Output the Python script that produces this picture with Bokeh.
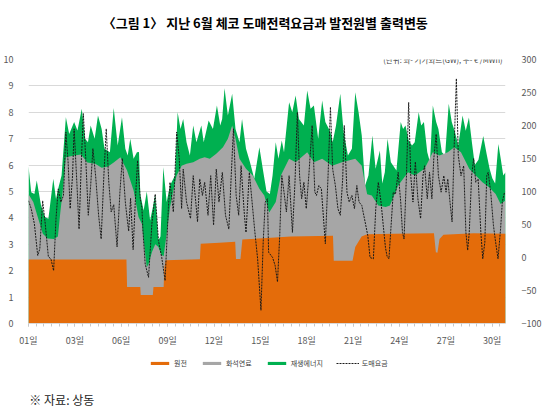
import numpy as np
from bokeh.plotting import figure
from bokeh.layouts import column
from bokeh.models import (Range1d, LinearAxis, FixedTicker, Legend, LegendItem, Label)
from bokeh.embed import file_html
from bokeh.resources import INLINE

FONT = "Noto Sans CJK KR"

# ---- axis ticks ----
tick_hours = [0, 70, 140, 210, 280, 350, 420, 490, 560, 630, 700]
tick_labels = ["01일", "03일", "06일", "09일", "12일", "15일", "18일", "21일", "24일", "27일", "30일"]
gw_ticks = [0, 1, 2, 3, 4, 5, 6, 7, 8, 9, 10]
price_ticks = [-100, -50, 0, 50, 100, 150, 200, 250, 300]

# ---- series (day of month as float, value) ----
# 원전 (nuclear), GW
nuclear = [(0, 2.42), (6.16, 2.42), (6.2, 1.38), (7.03, 1.38), (7.06, 1.08), (7.82, 1.08),
           (7.86, 1.38), (8.5, 1.38), (8.54, 2.07), (8.62, 2.4), (10.78, 2.43), (10.83, 3.02),
           (12.0, 3.06), (13.0, 3.1), (13.05, 2.44), (13.33, 2.44), (13.45, 3.18), (15.0, 3.24),
           (16.5, 3.3), (19.15, 3.32), (19.2, 2.38), (20.38, 2.38), (20.55, 2.9), (20.95, 3.3),
           (21.3, 3.38), (23.0, 3.4), (25.5, 3.42), (25.62, 2.7), (25.72, 2.68), (25.85, 3.2),
           (26.1, 3.36), (28.0, 3.42), (30.0, 3.4)]

# 원전 + 화석연료 (top of fossil band), GW
fossil_top = [(0, 4.9), (0.3, 4.6), (0.6, 4.0), (0.9, 3.4), (1.2, 3.22), (1.6, 3.2), (1.85, 3.3),
              (2.0, 4.2), (2.15, 5.0), (2.35, 6.3), (2.8, 6.35), (3.3, 6.4), (3.7, 6.1), (4.2, 6.05),
              (4.6, 5.9), (5.0, 5.95), (5.36, 6.1), (5.78, 6.3), (6.2, 5.8), (6.61, 5.04), (6.92, 4.03),
              (7.13, 3.78), (7.34, 2.64), (7.44, 2.13), (7.55, 2.25), (7.76, 2.7), (7.97, 3.0),
              (8.17, 2.9), (8.35, 2.6), (8.5, 2.55), (8.69, 3.4), (8.9, 4.4), (9.11, 5.04), (9.31, 5.6),
              (9.63, 5.98), (9.94, 6.05), (10.36, 6.11), (10.77, 6.24), (11.08, 6.3), (11.4, 6.24),
              (11.81, 6.43), (12.23, 6.68), (12.54, 7.0), (12.81, 7.5), (13.02, 7.0), (13.27, 6.24),
              (13.68, 5.86), (14.1, 5.61), (14.52, 5.1), (14.83, 4.85), (15.14, 4.2), (15.55, 4.6),
              (15.87, 5.61), (16.39, 6.24), (16.8, 6.11), (17.53, 6.49), (17.95, 6.11), (18.47, 6.24),
              (19.1, 5.98), (19.71, 6.11), (20.55, 6.24), (20.96, 5.98), (21.1, 5.5), (21.3, 4.9),
              (21.59, 4.85), (22.0, 4.47), (22.46, 4.41), (22.73, 4.47), (23.25, 5.23), (23.87, 5.73),
              (24.29, 5.61), (24.91, 5.86), (25.43, 6.49), (25.85, 6.36), (26.37, 6.49), (26.78, 6.68),
              (27.2, 6.49), (27.72, 5.86), (28.13, 5.61), (28.55, 5.35), (28.97, 5.16), (29.38, 4.91),
              (29.69, 4.53), (30.0, 4.66)]

# 원전 + 화석연료 + 재생에너지 (total output), GW
total = [(0, 5.96), (0.17, 4.97), (0.37, 4.91), (0.52, 5.42), (0.79, 4.47), (1.04, 4.03), (1.25, 3.97),
         (1.56, 5.48), (1.73, 4.72), (1.89, 5.16), (2.08, 5.61), (2.35, 7.81), (2.56, 7.18), (2.87, 7.63),
         (3.08, 7.31), (3.35, 8.13), (3.56, 7.0), (3.74, 6.87), (3.91, 7.5), (4.16, 7.0), (4.37, 7.88),
         (4.6, 7.37), (4.78, 6.62), (5.12, 6.49), (5.36, 8.16), (5.61, 6.74), (5.88, 7.81), (6.09, 6.62),
         (6.24, 6.36), (6.4, 7.0), (6.61, 6.24), (6.82, 6.49), (6.95, 6.5), (7.03, 4.9), (7.24, 4.28),
         (7.44, 5.0), (7.65, 3.9), (7.82, 4.4), (7.97, 4.9), (8.17, 3.14), (8.3, 3.3), (8.48, 5.92),
         (8.69, 4.6), (8.9, 5.23), (9.21, 5.61), (9.38, 8.0), (9.56, 7.37), (9.73, 7.75), (9.94, 6.87),
         (10.15, 6.36), (10.36, 7.5), (10.56, 6.87), (10.87, 7.5), (11.02, 6.87), (11.33, 7.69),
         (11.6, 7.37), (11.85, 8.26), (12.06, 7.5), (12.18, 7.75), (12.33, 8.91), (12.54, 7.88),
         (12.81, 8.7), (13.02, 7.37), (13.27, 6.87), (13.43, 7.75), (13.68, 6.62), (13.93, 6.11),
         (14.2, 5.48), (14.52, 6.68), (14.77, 5.73), (14.97, 5.0), (15.18, 4.91), (15.35, 5.61),
         (15.55, 6.87), (15.72, 6.24), (15.93, 6.93), (16.07, 6.49), (16.39, 8.38), (16.59, 8.0),
         (16.8, 8.64), (17.01, 7.75), (17.32, 7.5), (17.53, 8.83), (17.74, 8.13), (17.95, 8.26),
         (18.22, 7.0), (18.47, 8.45), (18.67, 7.63), (18.99, 7.25), (19.13, 6.87), (19.34, 7.5),
         (19.61, 8.7), (19.82, 7.25), (20.09, 6.36), (20.34, 6.62), (20.55, 8.76), (20.76, 8.0),
         (20.96, 7.12), (21.17, 5.23), (21.38, 5.61), (21.63, 7.12), (21.83, 5.86), (22.1, 6.55),
         (22.25, 5.3), (22.41, 5.73), (22.58, 7.0), (22.79, 6.11), (23.14, 5.8), (23.41, 7.63),
         (23.56, 7.37), (23.71, 7.5), (23.91, 6.93), (24.12, 6.74), (24.29, 6.87), (24.54, 8.0),
         (24.7, 7.5), (24.87, 7.63), (25.08, 6.49), (25.25, 6.11), (25.43, 8.26), (25.64, 7.63),
         (25.78, 7.37), (26.0, 6.49), (26.2, 6.36), (26.43, 8.32), (26.62, 7.63), (26.82, 7.25),
         (27.03, 6.74), (27.3, 7.88), (27.5, 7.3), (27.7, 7.8), (27.9, 6.8), (28.07, 6.0), (28.3, 6.2),
         (28.6, 7.1), (28.82, 6.4), (29.0, 5.86), (29.17, 5.5), (29.35, 5.3), (29.55, 6.8), (29.7, 6.24),
         (29.86, 5.61), (30.0, 5.73)]

# 도매요금 (wholesale price), EUR/MWh
price = [(0, 86), (0.17, 74), (0.37, 51), (0.58, 3), (0.71, 13), (0.89, 86), (1.04, 54), (1.25, 1),
         (1.41, -2), (1.58, -20), (1.73, 59), (1.87, 104), (2.04, 84), (2.2, 94), (2.35, 190),
         (2.49, 145), (2.62, 74), (2.77, 124), (2.87, 195), (3.04, 114), (3.18, 43), (3.33, 150),
         (3.45, 218), (3.6, 150), (3.76, 64), (3.91, 109), (4.05, 165), (4.22, 124), (4.41, 64),
         (4.57, 28), (4.74, 124), (4.89, 195), (5.05, 114), (5.2, 69), (5.36, 80), (5.57, 16),
         (5.75, 99), (5.9, 150), (6.09, 84), (6.2, 60), (6.3, 40), (6.42, 90), (6.58, 12), (6.72, 86),
         (6.86, 147), (7.03, 89), (7.13, 76), (7.2, 40), (7.34, -10), (7.55, -30), (7.76, 51),
         (7.97, 96), (8.17, 26), (8.38, 0), (8.59, -35), (8.8, 76), (8.9, 114), (9.11, 69), (9.32, 190),
         (9.48, 150), (9.63, 74), (9.73, 134), (9.94, 84), (10.19, 59), (10.36, 124), (10.52, 84),
         (10.63, 54), (10.77, 119), (10.94, 94), (11.08, 114), (11.29, 64), (11.46, 124), (11.64, 49),
         (11.81, 134), (11.98, 84), (12.19, 129), (12.39, 64), (12.6, 43), (12.75, 124), (12.89, 195),
         (13.06, 94), (13.22, 64), (13.37, 139), (13.58, 64), (13.68, 38), (13.89, 129), (14.1, 74),
         (14.24, 38), (14.41, -2), (14.62, -80), (14.76, 23), (14.89, 84), (15.03, 89), (15.1, 8),
         (15.35, 0), (15.51, -12), (15.66, -37), (15.8, 33), (15.93, 124), (16.07, 99), (16.22, 69),
         (16.39, 124), (16.6, 38), (16.76, 114), (16.91, 220), (17.05, 124), (17.18, 89), (17.32, 114),
         (17.47, 74), (17.63, 124), (17.84, 200), (18.01, 99), (18.11, 94), (18.26, 109), (18.42, 104),
         (18.57, 54), (18.67, 21), (18.84, 124), (18.99, 228), (19.13, 134), (19.3, 109), (19.46, 74),
         (19.61, 64), (19.76, 119), (19.86, 200), (20.03, 99), (20.17, 84), (20.34, 94), (20.5, 74),
         (20.65, 109), (20.79, 84), (20.96, 79), (21.17, 54), (21.34, 33), (21.48, 0), (21.69, -2),
         (21.84, 74), (22.0, 114), (22.17, 84), (22.31, 49), (22.45, 15), (22.55, 2), (22.67, -2),
         (22.79, 43), (22.94, 99), (23.08, 96), (23.25, 129), (23.41, 84), (23.52, 38), (23.62, 28),
         (23.77, 124), (23.91, 235), (24.04, 124), (24.18, 84), (24.33, 145), (24.49, 89), (24.66, 59),
         (24.81, 124), (24.91, 139), (25.08, 89), (25.22, 129), (25.37, 89), (25.49, 150), (25.64, 187),
         (25.78, 124), (25.95, 99), (26.12, 124), (26.26, 99), (26.37, 119), (26.51, 84), (26.64, 54),
         (26.78, 175), (26.91, 271), (27.03, 155), (27.2, 124), (27.37, 139), (27.51, 38), (27.62, 11),
         (27.72, 38), (27.87, 124), (28.0, 150), (28.13, 114), (28.28, 119), (28.45, 38), (28.57, -2),
         (28.7, 23), (28.82, 124), (28.91, 129), (29.07, 99), (29.24, 49), (29.38, 23), (29.53, -2),
         (29.69, 43), (29.8, 84), (29.94, 99)]

title_text = "〈그림 1〉 지난 6월 체코 도매전력요금과 발전원별 출력변동"
unit_text = "(단위: 좌- 기가와트(GW), 우- € /MWh)"
source_text = "※ 자료: 상동"
legend_labels = ["원전", "화석연료", "재생에너지", "도매요금"]

C_NUC = "#E46C0A"
C_FOS = "#A6A6A6"
C_REN = "#00B050"
C_PRICE = "#1a1a1a"

W = 550
H_TOP, H_MAIN, H_BOT = 44, 306, 62


def split(pairs):
    d = np.array([p[0] for p in pairs], dtype=float) * 24.0  # days -> hours
    v = np.array([p[1] for p in pairs], dtype=float)
    return d, v


def blank(height):
    f = figure(width=W, height=height, output_backend="svg", toolbar_location=None,
               x_range=Range1d(0, W), y_range=Range1d(0, height),
               x_axis_type=None, y_axis_type=None, min_border=0)
    f.outline_line_color = None
    f.background_fill_color = "white"
    f.border_fill_color = "white"
    return f


# ---------- title strip ----------
top = blank(H_TOP)
top.add_layout(Label(x=273, y=H_TOP - 22, text=title_text, text_align="center",
                     text_baseline="middle", text_font=FONT, text_font_size="13px",
                     text_font_style="bold", text_color="#000000"))

# ---------- main chart ----------
p = figure(width=W, height=H_MAIN, output_backend="svg", toolbar_location=None,
           x_range=Range1d(0, 720), y_range=Range1d(0, 10),
           min_border_left=24, min_border_right=45, min_border_top=15, min_border_bottom=27)
p.extra_y_ranges = {"price": Range1d(-100, 300)}
p.outline_line_color = None
p.background_fill_color = "white"
p.border_fill_color = "white"

p.yaxis.ticker = FixedTicker(ticks=gw_ticks)
p.yaxis.axis_line_color = None
p.yaxis.major_tick_line_color = None
p.yaxis.minor_tick_line_color = None
p.yaxis.major_label_text_font = FONT
p.yaxis.major_label_text_font_size = "9px"
p.yaxis.major_label_text_color = "#595959"
p.yaxis.major_label_standoff = 9

rax = LinearAxis(y_range_name="price", ticker=FixedTicker(ticks=price_ticks))
rax.axis_line_color = None
rax.major_tick_line_color = None
rax.minor_tick_line_color = None
rax.major_label_text_font = FONT
rax.major_label_text_font_size = "9px"
rax.major_label_text_color = "#595959"
rax.major_label_standoff = 10
p.add_layout(rax, "right")

minor = [i * 70 / 6 for i in range(62) if i * 70 / 6 <= 720]
p.xaxis.ticker = FixedTicker(ticks=tick_hours, minor_ticks=minor)
p.xaxis.major_label_overrides = {h: l for h, l in zip(tick_hours, tick_labels)}
p.xaxis.axis_line_color = "#d9d9d9"
p.xaxis.major_tick_line_color = "#c8c8c8"
p.xaxis.minor_tick_line_color = "#c8c8c8"
p.xaxis.major_tick_in = 0
p.xaxis.major_tick_out = 3
p.xaxis.minor_tick_in = 0
p.xaxis.minor_tick_out = 3
p.xaxis.major_label_text_font = FONT
p.xaxis.major_label_text_font_size = "9px"
p.xaxis.major_label_text_color = "#595959"
p.xaxis.major_label_standoff = 7

p.xgrid.visible = False
p.ygrid.grid_line_color = "#d9d9d9"
p.ygrid.grid_line_width = 1

tx, tv = split(total)
fx, fv = split(fossil_top)
nx, nv = split(nuclear)
px_, pv = split(price)

p.varea(x=tx, y1=0, y2=tv, fill_color=C_REN)
p.varea(x=fx, y1=0, y2=fv, fill_color=C_FOS)
p.varea(x=nx, y1=0, y2=nv, fill_color=C_NUC)
p.line(x=px_, y=pv, y_range_name="price", line_color=C_PRICE, line_width=1, line_dash="2 1")

p.add_layout(Label(x=720, y=10, text=unit_text, text_align="right", text_baseline="middle",
                   text_font=FONT, text_font_size="7.5px", text_color="#404040",
                   background_fill_color="white", padding=3))

# ---------- legend + source strip ----------
# legend swatches only: renderers parked outside the visible range of this strip
bot = blank(H_BOT)
off_x = [-40, -30]
off_y = [-40, -30]
g_nuc = bot.varea(x=off_x, y1=off_y, y2=off_x, fill_color=C_NUC)
g_fos = bot.varea(x=off_x, y1=off_y, y2=off_x, fill_color=C_FOS)
g_ren = bot.varea(x=off_x, y1=off_y, y2=off_x, fill_color=C_REN)
g_pr = bot.line(x=off_x, y=off_y, line_color=C_PRICE, line_width=1, line_dash="2 1")

legend = Legend(items=[LegendItem(label=lab, renderers=[r]) for lab, r in
                       zip(legend_labels, [g_nuc, g_fos, g_ren, g_pr])],
                orientation="horizontal", location=(120, 44.5),
                glyph_width=23, glyph_height=4, label_height=9, label_width=8,
                label_standoff=3, spacing=13, padding=2, margin=0,
                label_text_font=FONT, label_text_font_size="7px", label_text_color="#404040",
                border_line_color=None, background_fill_alpha=0)
bot.add_layout(legend)

bot.add_layout(Label(x=1, y=H_BOT - 49, text=source_text, text_align="left",
                     text_baseline="middle", text_font=FONT, text_font_size="12px",
                     text_color="#222222"))

layout = column(top, p, bot, spacing=0)
open("out.html", "w").write(file_html(layout, INLINE))
